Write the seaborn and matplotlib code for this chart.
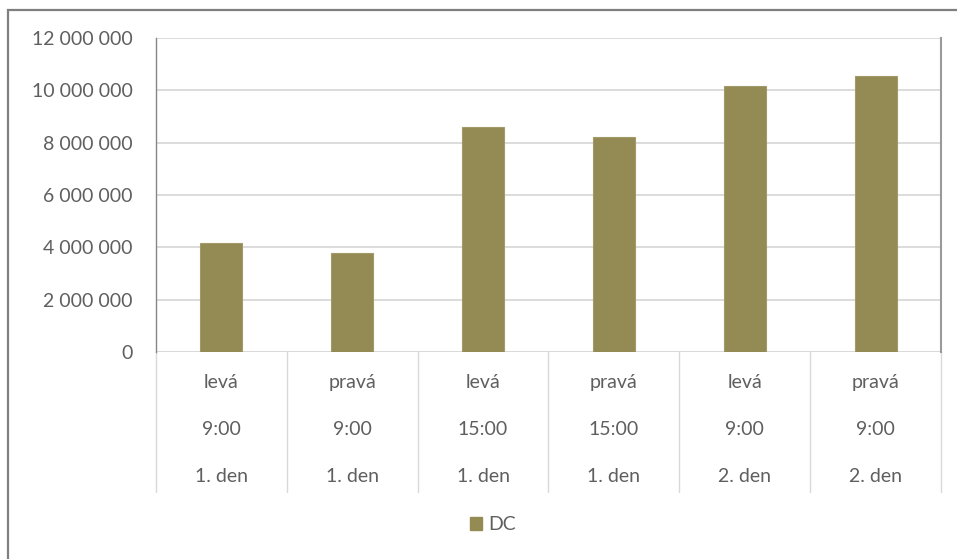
import matplotlib
matplotlib.use("Agg")
import matplotlib.pyplot as plt
import seaborn as sns
import pandas as pd
from matplotlib.patches import Rectangle
from matplotlib.lines import Line2D
import matplotlib.transforms as mtransforms

side = ["levá", "pravá", "levá", "pravá", "levá", "pravá"]
time = ["9:00", "9:00", "15:00", "15:00", "9:00", "9:00"]
day = ["1. den", "1. den", "1. den", "1. den", "2. den", "2. den"]
values = [4180000, 3800000, 8590000, 8220000, 10170000, 10540000]
series_name = "DC"
yticks = [0, 2000000, 4000000, 6000000, 8000000, 10000000, 12000000]

sns.set_theme(style="white")
plt.rcParams['font.family'] = ['Lato', 'DejaVu Sans']

TXT = "#5F5F5F"
BAR = "#948A54"
FS = 14

cats = [f"{a}\n{b}\n{c}" for a, b, c in zip(side, time, day)]
df = pd.DataFrame({"cat": cats, "val": values, "series": series_name})

fig = plt.figure(figsize=(9.57, 5.59), dpi=100)
ax = fig.add_axes([156/957, 1-352/559, (941-156)/957, (352-38)/559])

sns.barplot(data=df, x="cat", y="val", hue="series", palette=[BAR], width=0.32,
            saturation=1, ax=ax, legend=False, edgecolor="#A39A6A",
            linewidth=0.8, zorder=3)

ax.set_ylim(0, 12000000)
ax.set_xlim(-0.5, 5.5)
ax.set_yticks(yticks)
ax.set_yticklabels([f"{v:,}".replace(",", " ") for v in yticks], color=TXT, fontsize=FS)
ax.tick_params(axis="y", length=0, pad=17)
ax.set_xticks([])
ax.set_xlabel("")
ax.set_ylabel("")
ax.grid(axis="y", color="#D9D9D9", linewidth=1.3, zorder=0)
ax.set_axisbelow(True)
for s in ["top", "bottom"]:
    ax.spines[s].set_visible(False)
ax.spines["left"].set_color("#868686")
ax.spines["left"].set_linewidth(1.0)
ax.spines["right"].set_color("#9A9A9A")
ax.spines["right"].set_linewidth(1.5)
ax.axhline(0, color="#D9D9D9", linewidth=1.3, zorder=1)

trans = mtransforms.blended_transform_factory(ax.transData, ax.transAxes)
row_y = [-0.096, -0.248, -0.395]
for i in range(len(cats)):
    for ry, txt in zip(row_y, [side[i], time[i], day[i]]):
        ax.text(i, ry, txt, transform=trans, ha="center", va="center",
                color=TXT, fontsize=FS, clip_on=False)
for b in range(len(cats) + 1):
    ax.add_line(Line2D([b - 0.5, b - 0.5], [0, -0.446], transform=trans,
                       color="#D9D9D9", linewidth=1.0, clip_on=False))

handles = [Rectangle((0, 0), 1, 1, facecolor=BAR, edgecolor=BAR)]
fig.legend(handles, [series_name], loc="center", bbox_to_anchor=(0.515, 1-525/559),
           frameon=False, fontsize=FS, handlelength=0.65, handleheight=0.65,
           handletextpad=0.3, labelcolor=TXT)

fig.patches.append(Rectangle((8/957, -0.1), 1.2, 1.1 - 10/559, transform=fig.transFigure,
                             fill=False, edgecolor="#7F7F7F", linewidth=1.6))

fig.savefig("out.png", dpi=100)
